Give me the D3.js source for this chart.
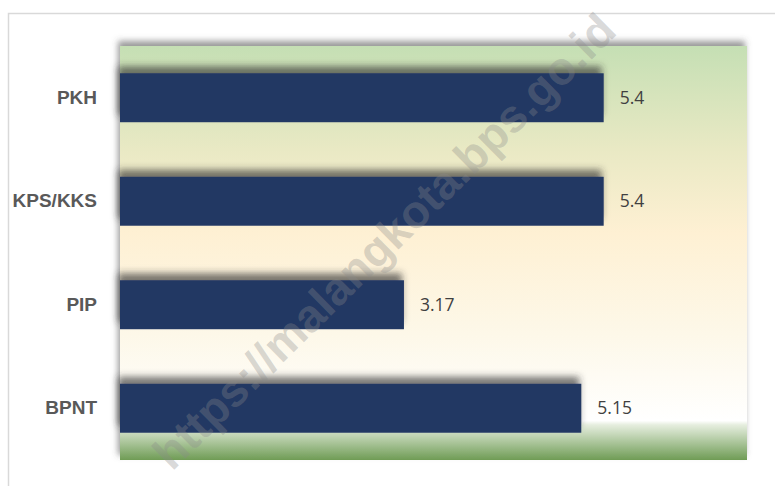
<!DOCTYPE html>
<html>
<head>
<meta charset="utf-8">
<script src="https://cdn.jsdelivr.net/npm/d3@7"></script>
<style>
  body { margin: 0; background: #fff; }
  svg { display: block; }
</style>
</head>
<body>
<div id="chart"></div>
<script>
// data
let categories = ["PKH", "KPS/KKS", "PIP", "BPNT"];
let values = [5.4, 5.4, 3.17, 5.15];
let xMax = 7;

let width = 775;
let height = 486;
let margin = { top: 46, right: 28, bottom: 26, left: 120 };
let plotW = width - margin.left - margin.right;
let plotH = height - margin.top - margin.bottom;

let svg = d3
  .select("#chart")
  .append("svg")
  .attr("width", width)
  .attr("height", height);

let defs = svg.append("defs");

// background gradient of the plot area
let grad = defs
  .append("linearGradient")
  .attr("id", "bg")
  .attr("x1", 0).attr("y1", 0)
  .attr("x2", 0).attr("y2", 1);
[
  [0, "#c5dfb4"],
  [0.25, "#e9e9c4"],
  [0.45, "#fef0d3"],
  [0.7, "#fdf8e9"],
  [0.905, "#ffffff"],
  [0.915, "#e6eedf"],
  [1, "#6f9c55"]
].forEach(function(s) {
  grad.append("stop").attr("offset", s[0]).attr("stop-color", s[1]);
});

let shadow = defs
  .append("filter")
  .attr("id", "shadow")
  .attr("x", "-10%").attr("y", "-50%")
  .attr("width", "120%").attr("height", "200%");
shadow
  .append("feDropShadow")
  .attr("dx", -2).attr("dy", -7)
  .attr("stdDeviation", 3.5)
  .attr("flood-color", "#333")
  .attr("flood-opacity", 0.65);

let areaShadow = defs
  .append("filter")
  .attr("id", "areaShadow")
  .attr("x", "-5%").attr("y", "-5%")
  .attr("width", "110%").attr("height", "110%");
areaShadow
  .append("feDropShadow")
  .attr("dx", -2).attr("dy", -5)
  .attr("stdDeviation", 3)
  .attr("flood-color", "#555")
  .attr("flood-opacity", 0.6);

// outer chart border
svg
  .append("rect")
  .attr("x", 8.5)
  .attr("y", 13.5)
  .attr("width", 800)
  .attr("height", 500)
  .attr("fill", "#fff")
  .attr("stroke", "#d9d9d9")
  .attr("stroke-width", 1.5);

let g = svg
  .append("g")
  .attr("transform", "translate(" + margin.left + "," + margin.top + ")");

g.append("rect")
  .attr("width", plotW)
  .attr("height", plotH)
  .attr("fill", "url(#bg)")
  .attr("filter", "url(#areaShadow)");

let x = d3.scaleLinear().domain([0, xMax]).range([0, plotW]);

let y = d3
  .scaleBand()
  .domain(categories)
  .range([0, plotH])
  .paddingInner(0.527)
  .paddingOuter(0.2635);

let data = categories.map(function(c, i) {
  return { name: c, value: values[i] };
});

g.selectAll(".bar")
  .data(data)
  .enter()
  .append("rect")
  .attr("class", "bar")
  .attr("x", 0)
  .attr("y", function(d) { return y(d.name); })
  .attr("width", function(d) { return x(d.value); })
  .attr("height", y.bandwidth())
  .attr("fill", "#203864")
  .attr("filter", "url(#shadow)");

g.selectAll(".val")
  .data(data)
  .enter()
  .append("text")
  .attr("class", "val")
  .attr("x", function(d) { return x(d.value) + 16; })
  .attr("y", function(d) { return y(d.name) + y.bandwidth() / 2; })
  .attr("dy", "0.35em")
  .attr("font-family", "Open Sans, sans-serif")
  .attr("font-size", 17.5)
  .attr("fill", "#404040")
  .text(function(d) { return d.value; });

// category axis
let axis = g.append("g").call(d3.axisLeft(y).tickSize(0).tickPadding(23));
axis.select(".domain").remove();
axis
  .selectAll("text")
  .attr("font-family", "Liberation Sans, Arial, sans-serif")
  .attr("font-weight", "bold")
  .attr("font-size", 19)
  .attr("fill", "#595959");

// watermark
svg
  .append("text")
  .attr("transform", "translate(172,472) rotate(-44.5)")
  .attr("font-family", "Liberation Sans, Arial, sans-serif")
  .attr("font-weight", "bold")
  .attr("font-size", 46)
  .attr("fill", "#8a8a8a")
  .attr("fill-opacity", 0.33)
  .text("https://malangkota.bps.go.id");
</script>
</body>
</html>
